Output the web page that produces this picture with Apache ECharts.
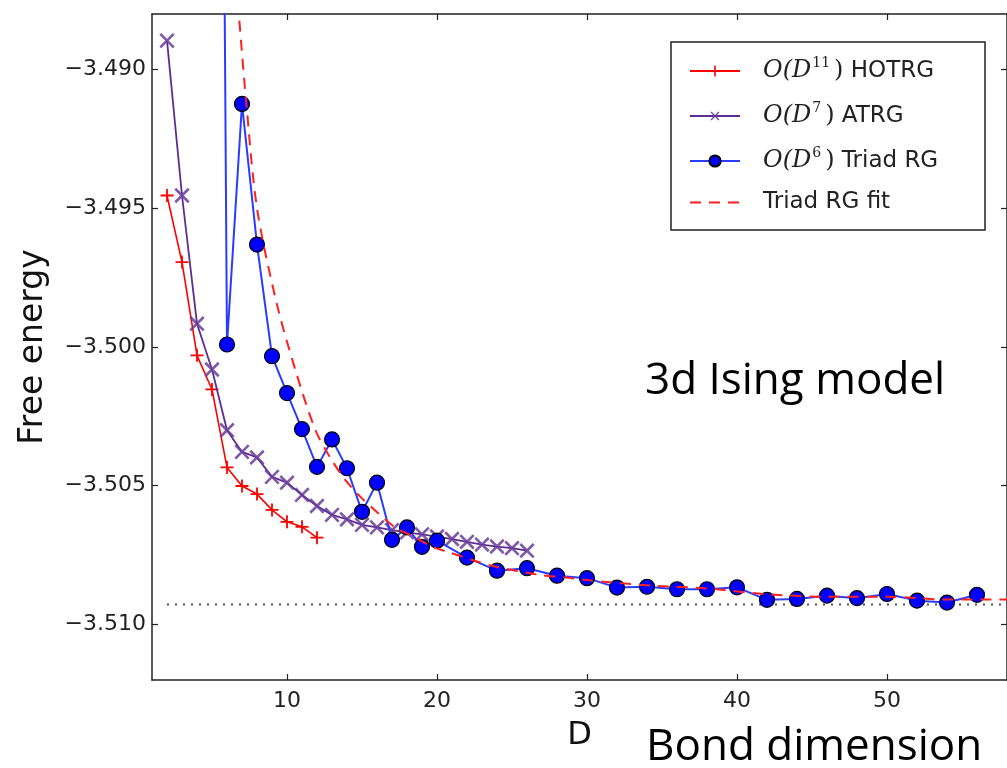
<!DOCTYPE html>
<html>
<head>
<meta charset="utf-8">
<script src="https://cdn.jsdelivr.net/npm/echarts@6/dist/echarts.min.js"></script>
<style>
  html, body { margin: 0; padding: 0; background: #fff; }
  #chart { width: 1007px; height: 768px; }
</style>
</head>
<body>
<div id="chart"></div>
<script>
// bond dimensions and free energies
var hotrgD = [2, 3, 4, 5, 6, 7, 8, 9, 10, 11, 12];
var hotrgF = [-3.49454, -3.49694, -3.50030, -3.50153, -3.50434, -3.50501, -3.50530, -3.50587, -3.50630, -3.50648, -3.50687];

var atrgD = [2, 3, 4, 5, 6, 7, 8, 9, 10, 11, 12, 13, 14, 15, 16, 17, 18, 19, 20, 21, 22, 23, 24, 25, 26];
var atrgF = [-3.48896, -3.49454, -3.49916, -3.50081, -3.50300, -3.50378, -3.50398, -3.50468, -3.50489, -3.50533,
             -3.50573, -3.50605, -3.50621, -3.50641, -3.50650, -3.50660, -3.50668, -3.50675, -3.50683, -3.50692,
             -3.50702, -3.50712, -3.50719, -3.50725, -3.50734];

var triadD = [5, 6, 7, 8, 9, 10, 11, 12, 13, 14, 15, 16, 17, 18, 19, 20, 22, 24, 26, 28, 30,
              32, 34, 36, 38, 40, 42, 44, 46, 48, 50, 52, 54, 56];
var triadF = [-3.42090, -3.49991, -3.49124, -3.49631, -3.50033, -3.50166, -3.50296, -3.50432, -3.50333, -3.50437,
              -3.50594, -3.50489, -3.50695, -3.50650, -3.50720, -3.50698, -3.50759, -3.50806, -3.50797, -3.50824,
              -3.50833, -3.50867, -3.50864, -3.50873, -3.50873, -3.50866, -3.50911, -3.50908, -3.50896, -3.50905,
              -3.50890, -3.50914, -3.50921, -3.50893];

var fitD = [6.5, 6.8, 7.3, 8, 9.3, 10.6, 11.9, 12.9, 13.9, 14.9, 16.1, 17.2, 18.3, 19.7, 20.8, 22.5, 23.8,
            26.7, 28.5, 30, 34.3, 38, 41.8, 46, 50, 54, 58];
var fitF = [-3.4862, -3.4881, -3.4913, -3.4950, -3.4984, -3.5009, -3.5030, -3.5040, -3.5048, -3.5054, -3.5060,
            -3.5065, -3.5068, -3.5072, -3.5074, -3.5077, -3.5079, -3.5082, -3.5083, -3.5084, -3.5086, -3.5087,
            -3.5089, -3.5090, -3.5090, -3.5091, -3.5091];

var limitD = [2, 58];
var limitF = [-3.50928, -3.50928];

var xTicks = [10, 20, 30, 40, 50];
var yTicks = [-3.510, -3.505, -3.500, -3.495, -3.490];

function pairs(xs, ys) {
  return xs.map(function (x, i) { return [x, ys[i]]; });
}

var plusPath = 'path://M4.3,0h1.4v10h-1.4z M0,4.3h10v1.4h-10z';

var chart = echarts.init(document.getElementById('chart'));

var tickCommon = { show: true, inside: true, length: 6, lineStyle: { color: '#222', width: 1.2 } };
var lineCommon = { show: true, lineStyle: { color: '#222', width: 1.5 } };

chart.setOption({
  animation: false,
  backgroundColor: '#fff',
  grid: { left: 152, top: 14, width: 859, height: 666 },
  xAxis: [{
    type: 'value', min: 1, max: 58, position: 'bottom',
    axisLine: lineCommon,
    axisTick: Object.assign({ customValues: xTicks }, tickCommon),
    axisLabel: { customValues: xTicks, fontSize: 22, color: '#222', margin: 10, fontFamily: 'DejaVu Sans' },
    splitLine: { show: false },
    name: 'D', nameLocation: 'middle', nameGap: 40,
    nameTextStyle: { fontSize: 32, color: '#111', fontFamily: 'DejaVu Sans' }
  }, {
    type: 'value', min: 1, max: 58, position: 'top',
    axisLine: lineCommon,
    axisTick: Object.assign({ customValues: xTicks }, tickCommon),
    axisLabel: { show: false },
    splitLine: { show: false }
  }],
  yAxis: [{
    type: 'value', min: -3.512, max: -3.488, position: 'left',
    axisLine: lineCommon,
    axisTick: Object.assign({ customValues: yTicks }, tickCommon),
    axisLabel: {
      customValues: yTicks, fontSize: 22, color: '#222', margin: 6, fontFamily: 'DejaVu Sans',
      formatter: function (v) { return '\u2212' + Math.abs(v).toFixed(3); }
    },
    splitLine: { show: false },
    name: 'Free energy', nameLocation: 'middle', nameRotate: 90, nameGap: 102,
    nameTextStyle: { fontSize: 33, color: '#111', fontFamily: 'DejaVu Sans' }
  }, {
    type: 'value', min: -3.512, max: -3.488, position: 'right',
    axisLine: lineCommon,
    axisTick: Object.assign({ customValues: yTicks }, tickCommon),
    axisLabel: { show: false },
    splitLine: { show: false }
  }],
  legend: {
    orient: 'vertical',
    left: 684, top: 51,
    itemWidth: 50, itemHeight: 14, itemGap: 18,
    data: ['HOTRG', 'ATRG', 'Triad RG', { name: 'Triad RG fit', itemStyle: { opacity: 0 } }],
    z: 10,
    formatter: function (name) {
      if (name === 'HOTRG') return '{m|O(D}{s|11}{p|)}{t| HOTRG}';
      if (name === 'ATRG') return '{m|O(D}{s|7}{p|)}{t| ATRG}';
      if (name === 'Triad RG') return '{m|O(D}{s|6}{p|)}{t| Triad RG}';
      return '{g|}{t|Triad RG fit}';
    },
    textStyle: {
      rich: {
        m: { fontFamily: 'DejaVu Serif', fontStyle: 'italic', fontSize: 24, color: '#222', padding: [0, 0, 0, 18], lineHeight: 30 },
        s: { fontFamily: 'DejaVu Serif', fontSize: 14, color: '#222', verticalAlign: 'top', lineHeight: 16, padding: [0, 4, 0, 1] },
        p: { fontFamily: 'DejaVu Serif', fontSize: 24, color: '#222', lineHeight: 30 },
        t: { fontFamily: 'DejaVu Sans', fontSize: 23, color: '#222', lineHeight: 30 },
        g: { width: 18 }
      }
    }
  },
  graphic: [
    { type: 'rect', z: 5, shape: { x: 671, y: 42, width: 314, height: 188 },
      style: { fill: '#fff', stroke: '#222', lineWidth: 1.5 } },
    { type: 'text', left: 645, top: 359, z: 5,
      style: { text: '3d Ising model', font: '44px "Open Sans"', fill: '#000' } },
    { type: 'text', left: 646, top: 725, z: 5,
      style: { text: 'Bond dimension', font: '44px "Open Sans"', fill: '#000' } }
  ],
  series: [{
    name: 'HOTRG', type: 'line', data: pairs(hotrgD, hotrgF), z: 2,
    symbol: plusPath, symbolSize: 13, showAllSymbol: true,
    lineStyle: { color: '#ff0000', width: 1.6 },
    itemStyle: { color: '#ff0000' }
  }, {
    name: 'ATRG', type: 'line', data: pairs(atrgD, atrgF), z: 3,
    symbol: plusPath, symbolSize: 19, symbolRotate: 45, showAllSymbol: true,
    lineStyle: { color: '#5e2d91', width: 1.8 },
    itemStyle: { color: '#6a3d9a', opacity: 0.85 }
  }, {
    name: 'Triad RG', type: 'line', data: pairs(triadD, triadF), z: 4,
    symbol: 'circle', symbolSize: 15, showAllSymbol: true,
    lineStyle: { color: '#2a3cff', width: 2 },
    itemStyle: { color: '#0000ff', borderColor: '#000', borderWidth: 1.2 }
  }, {
    name: 'Triad RG fit', type: 'line', data: pairs(fitD, fitF), z: 5,
    symbol: 'none', smooth: 0.3,
    lineStyle: { color: '#ff2020', width: 2, type: [11, 8] },
    itemStyle: { color: '#ff2020' }
  }, {
    name: 'limit', type: 'line', data: pairs(limitD, limitF), z: 1,
    symbol: 'none',
    lineStyle: { color: '#555', width: 2, type: [2, 6] }
  }]
});
</script>
</body>
</html>
